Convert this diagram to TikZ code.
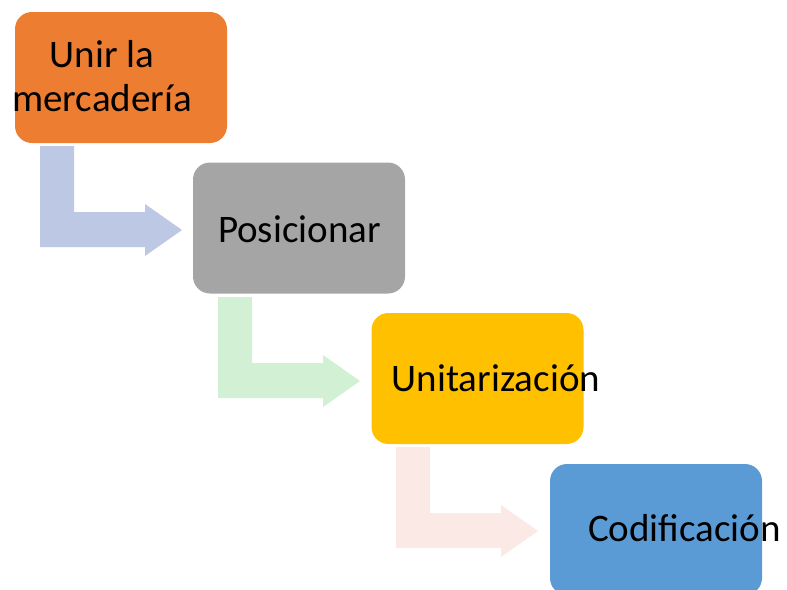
\documentclass[tikz,border=0pt]{standalone}
\usepackage{fontspec}
\setmainfont{Carlito}
\definecolor{cOrange}{HTML}{ED7D31}
\definecolor{cGray}{HTML}{A5A5A5}
\definecolor{cYellow}{HTML}{FFC000}
\definecolor{cBlue}{HTML}{5B9BD5}
\definecolor{aBlue}{HTML}{BDC8E4}
\definecolor{aGreen}{HTML}{D2F0D3}
\definecolor{aPink}{HTML}{FAE9E5}
\tikzset{
  box/.style={rounded corners=12.75pt, minimum width=159pt, minimum height=98.25pt, inner sep=0pt, draw=none},
  lbl/.style={font=\fontsize{29.25pt}{33pt}\selectfont, inner sep=0pt, anchor=base, text=black},
}
\newcommand{\bentarr}[2]{%
  \fill[#2] ([shift={(0,0)}]#1) -- ++(34,0) -- ++(0,66) -- ++(71,0) -- ++(0,-8)
    -- ++(37,26) -- ++(-37,26) -- ++(0,-9) -- ++(-105,0) -- cycle;}
\begin{document}
\begin{tikzpicture}[x=0.75pt,y=-0.75pt]
\useasboundingbox (0,0) rectangle (787,589);
\node[box, fill=cOrange] (b1) at (121,77.5) {};
\node[box, fill=cGray] (b2) at (299,228) {};
\node[box, fill=cYellow] (b3) at (477.5,378.5) {};
\node[box, fill=cBlue] (b4) at (656,529.5) {};
\coordinate (s1) at (40,146);
\coordinate (s2) at (218,297);
\coordinate (s3) at (396,447);
\bentarr{s1}{aBlue}
\bentarr{s2}{aGreen}
\bentarr{s3}{aPink}
\node[lbl, align=center] (t1) at (102,111) {Unir la\\mercadería};
\node[lbl] (t2) at (299.5,242) {Posicionar};
\node[lbl] (t3) at (496,391) {Unitarización};
\node[lbl] (t4) at (684.5,541) {Codificación};
\end{tikzpicture}
\end{document}
